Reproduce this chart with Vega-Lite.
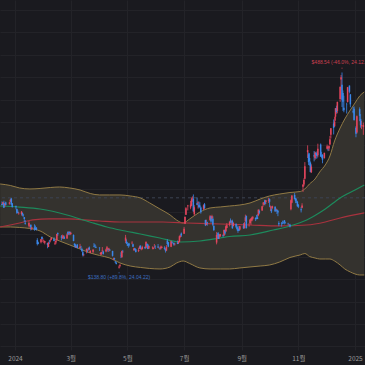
{
"$schema":"https://vega.github.io/schema/vega-lite/v6.json",
"width":365,"height":350,"autosize":{"type":"none"},"padding":{"left":0,"top":0,"right":0,"bottom":15},
"background":"#1a1a1f",
"config":{"view":{"stroke":null},
 "axisX":{"grid":true,"gridColor":"#232328","gridWidth":1,"ticks":false,"tickSize":0,"domain":false,"labelColor":"#9a9a9a","labelFontSize":6.5,"labelFont":"Noto Sans CJK KR","labelPadding":5,"labelFlush":false,"labelOverlap":false,"labelBound":false,"tickCount":20},
 "axisY":{"grid":true,"gridColor":"#232328","gridWidth":1,"ticks":false,"domain":false,"labels":false,"tickCount":30}},
"datasets":{
"band":[
{"d":"2023-12-16","up":289.7,"lo":213.0},{"d":"2023-12-27","up":287.0,"lo":213.0},{"d":"2024-01-06","up":282.5,"lo":212.1},{"d":"2024-01-17","up":280.8,"lo":210.3},{"d":"2024-01-28","up":281.7,"lo":205.9},{"d":"2024-02-08","up":283.4,"lo":195.2},{"d":"2024-02-18","up":284.3,"lo":188.0},{"d":"2024-02-29","up":282.5,"lo":180.9},{"d":"2024-03-11","up":279.0,"lo":173.8},{"d":"2024-03-22","up":272.7,"lo":166.6},{"d":"2024-04-01","up":270.1,"lo":162.2},{"d":"2024-04-12","up":270.1,"lo":157.7},{"d":"2024-04-23","up":270.1,"lo":148.8},{"d":"2024-05-04","up":268.3,"lo":143.4},{"d":"2024-05-15","up":264.7,"lo":140.8},{"d":"2024-05-25","up":255.8,"lo":139.0},{"d":"2024-06-05","up":245.1,"lo":138.1},{"d":"2024-06-16","up":234.4,"lo":141.7},{"d":"2024-06-23","up":225.3,"lo":148.8},{"d":"2024-06-30","up":220.1,"lo":152.3},{"d":"2024-07-07","up":227.3,"lo":147.9},{"d":"2024-07-18","up":239.7,"lo":139.9},{"d":"2024-07-29","up":246.9,"lo":138.1},{"d":"2024-08-09","up":248.7,"lo":138.1},{"d":"2024-08-19","up":250.4,"lo":138.1},{"d":"2024-08-30","up":252.2,"lo":139.9},{"d":"2024-09-10","up":255.8,"lo":141.7},{"d":"2024-09-21","up":262.9,"lo":143.4},{"d":"2024-10-01","up":268.3,"lo":145.2},{"d":"2024-10-12","up":271.8,"lo":150.6},{"d":"2024-10-23","up":274.5,"lo":158.6},{"d":"2024-11-03","up":276.3,"lo":163.1},{"d":"2024-11-08","up":280.8,"lo":165.7},{"d":"2024-11-13","up":289.7,"lo":160.4},{"d":"2024-11-19","up":298.6,"lo":157.7},{"d":"2024-11-24","up":311.1,"lo":155.9},{"d":"2024-11-30","up":323.6,"lo":155.9},{"d":"2024-12-05","up":339.6,"lo":155.9},{"d":"2024-12-10","up":366.4,"lo":152.3},{"d":"2024-12-16","up":389.6,"lo":145.2},{"d":"2024-12-21","up":405.6,"lo":138.1},{"d":"2024-12-27","up":421.7,"lo":132.7},{"d":"2025-01-01","up":434.1,"lo":129.2},{"d":"2025-01-06","up":446.6,"lo":127.4},{"d":"2025-01-11","up":453.8,"lo":127.4}
],
"green":[
{"d":"2023-12-16","v":250.4},{"d":"2024-01-06","v":248.4},{"d":"2024-01-28","v":245.1},{"d":"2024-02-26","v":234.4},{"d":"2024-03-11","v":227.3},{"d":"2024-03-25","v":220.1},{"d":"2024-04-09","v":213.0},{"d":"2024-04-23","v":207.6},{"d":"2024-05-15","v":200.5},{"d":"2024-06-05","v":193.4},{"d":"2024-06-27","v":186.2},{"d":"2024-07-18","v":188.0},{"d":"2024-08-09","v":193.4},{"d":"2024-08-19","v":196.0},{"d":"2024-09-10","v":198.7},{"d":"2024-10-05","v":207.6},{"d":"2024-10-23","v":214.8},{"d":"2024-11-10","v":225.5},{"d":"2024-11-18","v":232.6},{"d":"2024-11-30","v":245.0},{"d":"2024-12-16","v":264.7},{"d":"2025-01-01","v":279.0},{"d":"2025-01-11","v":287.9}
],
"red":[
{"d":"2023-12-16","v":213.0},{"d":"2024-01-06","v":220.1},{"d":"2024-01-20","v":225.5},{"d":"2024-02-07","v":227.3},{"d":"2024-02-26","v":227.3},{"d":"2024-04-01","v":223.7},{"d":"2024-04-23","v":221.9},{"d":"2024-06-08","v":221.9},{"d":"2024-07-04","v":220.1},{"d":"2024-08-09","v":218.3},{"d":"2024-09-10","v":216.5},{"d":"2024-10-12","v":214.8},{"d":"2024-11-10","v":216.5},{"d":"2024-11-30","v":221.9},{"d":"2024-12-16","v":229.0},{"d":"2025-01-11","v":238.0}
],
"ohlc":[
{"d":"2023-12-18","o":253.8,"h":258.7,"l":251.4,"c":252.1},{"d":"2023-12-19","o":253.5,"h":257.3,"l":253.0,"c":257.2},{"d":"2023-12-20","o":256.4,"h":259.8,"l":247.0,"c":247.1},{"d":"2023-12-21","o":251.9,"h":254.8,"l":248.6,"c":254.5},{"d":"2023-12-22","o":256.8,"h":258.2,"l":251.4,"c":252.5},{"d":"2023-12-26","o":254.5,"h":257.9,"l":252.9,"c":256.6},{"d":"2023-12-27","o":258.4,"h":263.3,"l":257.5,"c":261.4},{"d":"2023-12-28","o":263.7,"h":265.1,"l":252.7,"c":253.2},{"d":"2023-12-29","o":255.1,"h":255.2,"l":247.4,"c":248.5},
{"d":"2024-01-02","o":250.1,"h":251.3,"l":244.4,"c":248.4},{"d":"2024-01-03","o":244.9,"h":245.7,"l":236.3,"c":238.4},{"d":"2024-01-04","o":239.3,"h":242.7,"l":237.7,"c":237.9},{"d":"2024-01-05","o":236.9,"h":240.1,"l":234.9,"c":237.5},{"d":"2024-01-08","o":236.1,"h":241.3,"l":233.3,"c":240.5},{"d":"2024-01-09","o":238.1,"h":238.9,"l":232.0,"c":235.0},{"d":"2024-01-10","o":235.1,"h":235.5,"l":231.3,"c":233.9},{"d":"2024-01-11","o":230.6,"h":230.9,"l":222.0,"c":227.2},{"d":"2024-01-12","o":220.1,"h":225.3,"l":217.2,"c":218.9},{"d":"2024-01-16","o":215.1,"h":223.5,"l":212.2,"c":219.9},{"d":"2024-01-17","o":214.9,"h":216.0,"l":212.0,"c":215.6},{"d":"2024-01-18","o":216.9,"h":217.4,"l":206.8,"c":211.9},{"d":"2024-01-19","o":209.9,"h":213.2,"l":207.6,"c":212.2},{"d":"2024-01-22","o":212.3,"h":217.8,"l":206.3,"c":208.8},{"d":"2024-01-23","o":211.3,"h":215.6,"l":207.8,"c":209.1},{"d":"2024-01-24","o":211.9,"h":212.7,"l":206.8,"c":207.8},{"d":"2024-01-25","o":189.7,"h":193.0,"l":180.1,"c":182.6},{"d":"2024-01-26","o":185.5,"h":186.8,"l":182.1,"c":183.3},{"d":"2024-01-29","o":185.6,"h":191.5,"l":183.7,"c":190.9},{"d":"2024-01-30","o":195.3,"h":196.4,"l":190.3,"c":191.6},{"d":"2024-01-31","o":187.0,"h":193.0,"l":185.9,"c":187.3},
{"d":"2024-02-01","o":188.5,"h":189.9,"l":184.2,"c":188.9},{"d":"2024-02-02","o":185.0,"h":188.0,"l":182.0,"c":187.9},{"d":"2024-02-05","o":184.3,"h":184.9,"l":175.0,"c":181.1},{"d":"2024-02-06","o":177.2,"h":186.5,"l":177.1,"c":185.1},{"d":"2024-02-07","o":188.2,"h":189.8,"l":182.7,"c":187.6},{"d":"2024-02-08","o":189.0,"h":191.6,"l":185.6,"c":189.6},{"d":"2024-02-09","o":190.2,"h":194.1,"l":189.1,"c":193.6},{"d":"2024-02-12","o":192.1,"h":194.7,"l":187.4,"c":188.1},{"d":"2024-02-13","o":183.0,"h":187.3,"l":180.9,"c":184.0},{"d":"2024-02-14","o":185.3,"h":188.9,"l":182.3,"c":188.7},{"d":"2024-02-15","o":189.2,"h":200.9,"l":188.8,"c":200.5},{"d":"2024-02-16","o":202.1,"h":203.2,"l":197.0,"c":200.0},{"d":"2024-02-20","o":196.1,"h":198.6,"l":189.1,"c":193.8},{"d":"2024-02-21","o":193.4,"h":199.4,"l":191.9,"c":194.8},{"d":"2024-02-22","o":194.0,"h":198.3,"l":191.4,"c":197.4},{"d":"2024-02-23","o":195.3,"h":197.6,"l":191.5,"c":192.0},{"d":"2024-02-26","o":192.3,"h":201.8,"l":192.0,"c":199.4},{"d":"2024-02-27","o":204.0,"h":205.6,"l":198.3,"c":199.7},{"d":"2024-02-28","o":200.4,"h":205.3,"l":198.4,"c":202.0},{"d":"2024-02-29","o":204.2,"h":205.3,"l":198.4,"c":201.9},
{"d":"2024-03-01","o":200.5,"h":204.5,"l":198.5,"c":202.6},{"d":"2024-03-04","o":198.7,"h":199.8,"l":187.5,"c":188.1},{"d":"2024-03-05","o":183.1,"h":184.0,"l":177.6,"c":180.7},{"d":"2024-03-06","o":181.3,"h":183.0,"l":176.3,"c":176.5},{"d":"2024-03-07","o":176.6,"h":179.8,"l":175.6,"c":178.7},{"d":"2024-03-08","o":181.5,"h":182.7,"l":174.7,"c":175.3},{"d":"2024-03-11","o":175.5,"h":182.9,"l":174.5,"c":177.8},{"d":"2024-03-12","o":177.8,"h":179.4,"l":172.4,"c":177.5},{"d":"2024-03-13","o":173.1,"h":176.1,"l":169.0,"c":169.5},{"d":"2024-03-14","o":167.8,"h":171.2,"l":160.5,"c":162.5},{"d":"2024-03-15","o":163.2,"h":165.2,"l":160.8,"c":163.6},{"d":"2024-03-18","o":170.0,"h":174.7,"l":165.9,"c":173.8},{"d":"2024-03-19","o":172.4,"h":172.8,"l":167.4,"c":171.3},{"d":"2024-03-20","o":173.0,"h":176.2,"l":170.9,"c":175.7},{"d":"2024-03-21","o":176.4,"h":178.2,"l":171.8,"c":172.8},{"d":"2024-03-22","o":166.7,"h":171.2,"l":166.3,"c":170.8},{"d":"2024-03-25","o":168.8,"h":173.6,"l":165.9,"c":172.6},{"d":"2024-03-26","o":178.6,"h":184.2,"l":177.0,"c":177.7},{"d":"2024-03-27","o":181.4,"h":181.9,"l":176.1,"c":179.8},{"d":"2024-03-28","o":177.5,"h":179.6,"l":175.3,"c":175.8},
{"d":"2024-04-01","o":176.2,"h":176.8,"l":170.2,"c":175.2},{"d":"2024-04-02","o":164.8,"h":167.7,"l":163.4,"c":166.6},{"d":"2024-04-03","o":164.0,"h":168.8,"l":163.3,"c":168.4},{"d":"2024-04-04","o":170.3,"h":177.2,"l":168.0,"c":171.1},{"d":"2024-04-05","o":169.1,"h":170.9,"l":163.8,"c":164.9},{"d":"2024-04-08","o":169.3,"h":174.5,"l":167.8,"c":173.0},{"d":"2024-04-09","o":172.9,"h":179.2,"l":170.0,"c":176.9},{"d":"2024-04-10","o":173.0,"h":174.9,"l":168.6,"c":171.8},{"d":"2024-04-11","o":172.6,"h":175.9,"l":168.5,"c":174.6},{"d":"2024-04-12","o":172.3,"h":173.8,"l":170.4,"c":171.1},{"d":"2024-04-15","o":170.2,"h":170.7,"l":160.3,"c":161.5},{"d":"2024-04-16","o":156.7,"h":158.2,"l":153.8,"c":157.1},{"d":"2024-04-17","o":157.6,"h":158.3,"l":153.8,"c":155.5},{"d":"2024-04-18","o":151.3,"h":152.2,"l":148.7,"c":149.9},{"d":"2024-04-19","o":149.0,"h":150.9,"l":146.2,"c":147.1},{"d":"2024-04-22","o":140.6,"h":144.4,"l":138.8,"c":142.1},{"d":"2024-04-23","o":143.3,"h":147.3,"l":141.1,"c":144.7},{"d":"2024-04-24","o":162.8,"h":167.9,"l":157.5,"c":162.1},{"d":"2024-04-25","o":159.0,"h":170.9,"l":158.4,"c":170.2},{"d":"2024-04-26","o":168.9,"h":172.1,"l":166.4,"c":168.3},{"d":"2024-04-29","o":188.4,"h":198.9,"l":184.5,"c":194.1},{"d":"2024-04-30","o":187.0,"h":191.0,"l":182.7,"c":183.3},
{"d":"2024-05-01","o":182.0,"h":185.9,"l":179.0,"c":180.0},{"d":"2024-05-02","o":182.9,"h":184.6,"l":176.0,"c":180.0},{"d":"2024-05-03","o":182.1,"h":184.7,"l":178.4,"c":181.2},{"d":"2024-05-06","o":183.8,"h":187.6,"l":182.2,"c":184.8},{"d":"2024-05-07","o":182.4,"h":183.3,"l":177.4,"c":177.8},{"d":"2024-05-08","o":171.6,"h":176.1,"l":170.6,"c":174.7},{"d":"2024-05-09","o":175.0,"h":175.6,"l":170.7,"c":172.0},{"d":"2024-05-10","o":173.1,"h":173.1,"l":167.4,"c":168.5},{"d":"2024-05-13","o":170.0,"h":175.4,"l":168.2,"c":171.9},{"d":"2024-05-14","o":174.5,"h":179.5,"l":174.1,"c":177.6},{"d":"2024-05-15","o":179.9,"h":180.0,"l":173.1,"c":174.0},{"d":"2024-05-16","o":174.1,"h":175.8,"l":171.4,"c":174.8},{"d":"2024-05-17","o":173.6,"h":179.6,"l":172.8,"c":177.5},{"d":"2024-05-20","o":177.6,"h":177.7,"l":173.5,"c":175.0},{"d":"2024-05-21","o":176.0,"h":186.9,"l":174.7,"c":186.6},{"d":"2024-05-22","o":182.9,"h":183.8,"l":178.1,"c":180.1},{"d":"2024-05-23","o":181.8,"h":181.9,"l":173.3,"c":173.7},{"d":"2024-05-24","o":174.8,"h":180.1,"l":173.7,"c":179.2},{"d":"2024-05-28","o":176.4,"h":178.3,"l":173.2,"c":176.8},{"d":"2024-05-29","o":174.2,"h":176.2,"l":173.3,"c":176.2},{"d":"2024-05-30","o":178.6,"h":182.7,"l":175.8,"c":178.8},{"d":"2024-05-31","o":178.5,"h":180.3,"l":173.8,"c":178.1},
{"d":"2024-06-03","o":178.1,"h":182.6,"l":175.5,"c":176.3},{"d":"2024-06-04","o":174.8,"h":177.8,"l":174.0,"c":174.8},{"d":"2024-06-05","o":175.4,"h":176.1,"l":172.1,"c":175.0},{"d":"2024-06-06","o":174.6,"h":179.7,"l":172.9,"c":177.9},{"d":"2024-06-07","o":176.1,"h":179.4,"l":175.5,"c":177.5},{"d":"2024-06-10","o":176.1,"h":178.6,"l":172.5,"c":173.8},{"d":"2024-06-11","o":173.9,"h":174.8,"l":167.4,"c":170.7},{"d":"2024-06-12","o":171.1,"h":180.6,"l":169.8,"c":177.3},{"d":"2024-06-13","o":188.4,"h":191.1,"l":181.2,"c":182.5},{"d":"2024-06-14","o":185.8,"h":186.0,"l":176.9,"c":178.0},{"d":"2024-06-17","o":177.9,"h":188.8,"l":177.0,"c":187.4},{"d":"2024-06-18","o":186.6,"h":187.2,"l":182.4,"c":184.9},{"d":"2024-06-20","o":184.7,"h":185.2,"l":179.7,"c":181.6},{"d":"2024-06-21","o":182.3,"h":183.9,"l":180.0,"c":183.0},{"d":"2024-06-24","o":185.0,"h":188.8,"l":182.4,"c":182.6},{"d":"2024-06-25","o":184.4,"h":187.6,"l":182.6,"c":187.4},{"d":"2024-06-26","o":186.5,"h":197.8,"l":186.4,"c":196.4},{"d":"2024-06-27","o":195.2,"h":199.8,"l":194.1,"c":197.4},{"d":"2024-06-28","o":201.4,"h":203.2,"l":195.3,"c":197.9},
{"d":"2024-07-01","o":201.0,"h":213.2,"l":200.8,"c":209.9},{"d":"2024-07-02","o":218.9,"h":231.3,"l":218.1,"c":231.3},{"d":"2024-07-03","o":234.6,"h":248.4,"l":234.3,"c":246.4},{"d":"2024-07-05","o":249.8,"h":252.4,"l":242.5,"c":251.5},{"d":"2024-07-08","o":247.7,"h":259.4,"l":244.6,"c":252.9},{"d":"2024-07-09","o":251.0,"h":265.6,"l":250.3,"c":262.3},{"d":"2024-07-10","o":262.8,"h":267.6,"l":257.9,"c":263.3},{"d":"2024-07-11","o":263.3,"h":271.0,"l":239.7,"c":241.0},{"d":"2024-07-12","o":235.8,"h":251.8,"l":233.1,"c":248.2},{"d":"2024-07-15","o":255.3,"h":265.6,"l":251.7,"c":252.6},{"d":"2024-07-16","o":255.3,"h":258.6,"l":245.8,"c":256.6},{"d":"2024-07-17","o":252.7,"h":258.5,"l":246.2,"c":248.5},{"d":"2024-07-18","o":251.1,"h":257.1,"l":247.2,"c":249.2},{"d":"2024-07-19","o":247.8,"h":249.4,"l":236.8,"c":239.2},{"d":"2024-07-22","o":244.2,"h":253.2,"l":243.8,"c":251.5},{"d":"2024-07-23","o":253.6,"h":255.8,"l":245.6,"c":246.4},{"d":"2024-07-24","o":225.4,"h":226.0,"l":214.6,"c":216.0},{"d":"2024-07-25","o":216.8,"h":226.0,"l":216.2,"c":220.3},{"d":"2024-07-26","o":221.2,"h":222.3,"l":215.3,"c":219.8},{"d":"2024-07-29","o":224.9,"h":234.3,"l":224.3,"c":232.1},{"d":"2024-07-30","o":232.3,"h":232.4,"l":220.4,"c":222.6},{"d":"2024-07-31","o":227.9,"h":234.7,"l":226.6,"c":232.1},
{"d":"2024-08-01","o":227.7,"h":231.9,"l":214.3,"c":216.9},{"d":"2024-08-02","o":214.9,"h":216.1,"l":205.7,"c":207.7},{"d":"2024-08-05","o":185.2,"h":203.9,"l":182.0,"c":198.9},{"d":"2024-08-06","o":200.8,"h":202.9,"l":192.1,"c":200.6},{"d":"2024-08-07","o":200.8,"h":203.5,"l":191.5,"c":191.8},{"d":"2024-08-08","o":195.7,"h":200.7,"l":192.0,"c":198.8},{"d":"2024-08-09","o":197.1,"h":200.7,"l":195.2,"c":200.0},{"d":"2024-08-12","o":199.0,"h":199.3,"l":194.7,"c":197.5},{"d":"2024-08-13","o":198.0,"h":208.5,"l":197.1,"c":207.8},{"d":"2024-08-14","o":207.4,"h":208.4,"l":198.8,"c":201.4},{"d":"2024-08-15","o":205.0,"h":215.9,"l":204.8,"c":214.1},{"d":"2024-08-16","o":211.2,"h":219.8,"l":210.8,"c":216.1},{"d":"2024-08-19","o":217.1,"h":223.0,"l":214.1,"c":222.7},{"d":"2024-08-20","o":224.9,"h":228.2,"l":219.6,"c":221.1},{"d":"2024-08-21","o":222.7,"h":224.7,"l":218.9,"c":223.3},{"d":"2024-08-22","o":223.8,"h":226.0,"l":209.8,"c":210.7},{"d":"2024-08-23","o":214.5,"h":221.5,"l":214.2,"c":220.3},{"d":"2024-08-26","o":218.8,"h":219.1,"l":211.0,"c":213.2},{"d":"2024-08-27","o":213.3,"h":215.7,"l":206.9,"c":209.2},{"d":"2024-08-28","o":209.7,"h":211.8,"l":202.6,"c":205.8},{"d":"2024-08-29","o":209.8,"h":214.9,"l":206.0,"c":206.3},{"d":"2024-08-30","o":208.6,"h":214.6,"l":207.0,"c":214.1},
{"d":"2024-09-03","o":215.3,"h":219.9,"l":209.6,"c":210.6},{"d":"2024-09-04","o":210.6,"h":222.2,"l":210.6,"c":219.4},{"d":"2024-09-05","o":223.5,"h":235.0,"l":222.3,"c":230.2},{"d":"2024-09-06","o":232.6,"h":233.6,"l":210.5,"c":210.7},{"d":"2024-09-09","o":216.2,"h":219.9,"l":213.7,"c":216.3},{"d":"2024-09-10","o":220.1,"h":226.4,"l":218.6,"c":226.2},{"d":"2024-09-11","o":224.6,"h":228.5,"l":216.8,"c":228.1},{"d":"2024-09-12","o":224.7,"h":231.4,"l":223.0,"c":229.8},{"d":"2024-09-13","o":228.0,"h":232.7,"l":226.3,"c":230.3},{"d":"2024-09-16","o":229.3,"h":230.0,"l":223.5,"c":226.8},{"d":"2024-09-17","o":229.5,"h":234.6,"l":226.6,"c":227.9},{"d":"2024-09-18","o":230.1,"h":235.7,"l":226.9,"c":227.2},{"d":"2024-09-19","o":234.0,"h":244.2,"l":232.1,"c":243.9},{"d":"2024-09-20","o":241.5,"h":244.0,"l":235.9,"c":238.3},{"d":"2024-09-23","o":242.6,"h":250.0,"l":241.9,"c":250.0},{"d":"2024-09-24","o":254.1,"h":257.2,"l":249.1,"c":254.3},{"d":"2024-09-25","o":252.5,"h":257.1,"l":252.3,"c":257.0},{"d":"2024-09-26","o":260.6,"h":261.8,"l":251.5,"c":254.2},{"d":"2024-09-27","o":257.4,"h":260.7,"l":254.1,"c":260.5},{"d":"2024-09-30","o":259.0,"h":264.9,"l":255.8,"c":261.6},
{"d":"2024-10-01","o":262.7,"h":264.0,"l":248.5,"c":258.0},{"d":"2024-10-02","o":247.6,"h":251.2,"l":241.5,"c":249.0},{"d":"2024-10-03","o":244.5,"h":249.8,"l":237.8,"c":240.7},{"d":"2024-10-04","o":246.7,"h":251.0,"l":244.6,"c":250.1},{"d":"2024-10-07","o":249.0,"h":249.8,"l":240.7,"c":240.8},{"d":"2024-10-08","o":243.6,"h":246.2,"l":240.6,"c":244.5},{"d":"2024-10-09","o":243.8,"h":244.5,"l":236.1,"c":241.1},{"d":"2024-10-10","o":241.8,"h":242.8,"l":232.3,"c":238.8},{"d":"2024-10-11","o":220.1,"h":223.3,"l":214.4,"c":217.8},{"d":"2024-10-14","o":220.1,"h":221.9,"l":213.7,"c":219.2},{"d":"2024-10-15","o":220.0,"h":224.3,"l":217.9,"c":219.6},{"d":"2024-10-16","o":221.4,"h":222.8,"l":218.9,"c":221.3},{"d":"2024-10-17","o":225.0,"h":225.1,"l":217.7,"c":220.9},{"d":"2024-10-18","o":220.9,"h":222.3,"l":219.0,"c":220.7},{"d":"2024-10-21","o":219.2,"h":220.5,"l":215.7,"c":218.9},{"d":"2024-10-22","o":217.3,"h":218.2,"l":215.3,"c":218.0},{"d":"2024-10-23","o":217.1,"h":218.7,"l":212.1,"c":213.7},{"d":"2024-10-24","o":244.7,"h":262.1,"l":242.7,"c":260.5},{"d":"2024-10-25","o":256.0,"h":269.5,"l":255.3,"c":269.2},{"d":"2024-10-28","o":270.0,"h":273.5,"l":262.2,"c":262.5},{"d":"2024-10-29","o":264.5,"h":265.0,"l":255.5,"c":259.5},{"d":"2024-10-30","o":258.0,"h":263.4,"l":255.8,"c":257.6},{"d":"2024-10-31","o":258.0,"h":259.8,"l":249.3,"c":249.9},
{"d":"2024-11-01","o":252.0,"h":254.0,"l":246.6,"c":249.0},{"d":"2024-11-04","o":244.6,"h":248.9,"l":238.9,"c":242.8},{"d":"2024-11-05","o":247.3,"h":255.3,"l":246.5,"c":251.4},{"d":"2024-11-06","o":284.7,"h":289.6,"l":275.6,"c":288.5},{"d":"2024-11-07","o":288.9,"h":299.8,"l":285.5,"c":296.9},{"d":"2024-11-08","o":299.1,"h":328.7,"l":297.7,"c":321.2},{"d":"2024-11-11","o":346.3,"h":358.6,"l":336.0,"c":350.0},{"d":"2024-11-12","o":342.7,"h":345.8,"l":323.3,"c":328.5},{"d":"2024-11-13","o":335.9,"h":344.6,"l":322.5,"c":330.2},{"d":"2024-11-14","o":327.7,"h":330.0,"l":310.4,"c":311.2},{"d":"2024-11-15","o":310.6,"h":324.7,"l":309.2,"c":320.7},{"d":"2024-11-18","o":340.7,"h":348.5,"l":330.0,"c":338.7},{"d":"2024-11-19","o":335.8,"h":347.4,"l":332.8,"c":346.0},{"d":"2024-11-20","o":345.0,"h":346.6,"l":334.3,"c":342.0},{"d":"2024-11-21","o":343.8,"h":348.0,"l":335.3,"c":339.6},{"d":"2024-11-22","o":341.1,"h":361.5,"l":337.2,"c":352.6},{"d":"2024-11-25","o":360.1,"h":361.9,"l":338.2,"c":338.6},{"d":"2024-11-26","o":341.0,"h":347.0,"l":335.7,"c":338.2},{"d":"2024-11-27","o":341.8,"h":342.6,"l":326.6,"c":332.9},{"d":"2024-11-29","o":336.1,"h":345.5,"l":334.8,"c":345.2},
{"d":"2024-12-02","o":352.4,"h":360.0,"l":351.2,"c":357.1},{"d":"2024-12-03","o":351.8,"h":355.7,"l":348.2,"c":351.4},{"d":"2024-12-04","o":353.0,"h":358.1,"l":348.6,"c":357.9},{"d":"2024-12-05","o":359.9,"h":375.4,"l":359.5,"c":369.5},{"d":"2024-12-06","o":377.4,"h":389.5,"l":370.8,"c":389.2},{"d":"2024-12-09","o":397.6,"h":404.8,"l":378.0,"c":389.8},{"d":"2024-12-10","o":392.7,"h":409.7,"l":391.3,"c":401.0},{"d":"2024-12-11","o":409.7,"h":424.9,"l":402.4,"c":424.8},{"d":"2024-12-12","o":424.8,"h":429.3,"l":415.0,"c":418.1},{"d":"2024-12-13","o":420.0,"h":436.3,"l":415.7,"c":436.2},{"d":"2024-12-16","o":441.1,"h":463.2,"l":436.2,"c":463.0},{"d":"2024-12-17","o":475.9,"h":484.0,"l":457.5,"c":479.9},{"d":"2024-12-18","o":466.5,"h":488.54,"l":427.0,"c":440.1},{"d":"2024-12-19","o":451.9,"h":456.4,"l":420.0,"c":436.2},{"d":"2024-12-20","o":425.5,"h":447.1,"l":417.6,"c":421.1},{"d":"2024-12-23","o":431.0,"h":434.5,"l":415.4,"c":430.6},{"d":"2024-12-24","o":435.9,"h":462.8,"l":435.1,"c":462.3},{"d":"2024-12-26","o":465.2,"h":465.3,"l":451.1,"c":454.1},{"d":"2024-12-27","o":449.5,"h":450.0,"l":426.5,"c":431.7},{"d":"2024-12-30","o":419.4,"h":427.0,"l":415.8,"c":417.4},{"d":"2024-12-31","o":423.8,"h":427.9,"l":402.5,"c":403.8},
{"d":"2025-01-02","o":390.1,"h":392.7,"l":373.0,"c":379.3},{"d":"2025-01-03","o":381.5,"h":411.9,"l":379.5,"c":410.4},{"d":"2025-01-06","o":423.2,"h":426.4,"l":401.7,"c":411.1},{"d":"2025-01-07","o":405.8,"h":414.3,"l":390.0,"c":394.4},{"d":"2025-01-08","o":393.0,"h":402.5,"l":387.4,"c":394.9},{"d":"2025-01-10","o":391.4,"h":399.3,"l":377.3,"c":394.7}
],
"notes":[
{"d":"2024-12-18","p":488.54,"label":"$488.54 (-46.0%, 24.12.18)","kind":"high"},
{"d":"2024-04-22","p":138.8,"label":"$138.80 (+89.8%, 24.04.22)","kind":"low"}
]
},
"layer":[
{"data":{"name":"band"},"mark":{"type":"area","interpolate":"monotone","color":"#34322e","clip":true},
 "encoding":{
  "x":{"field":"d","type":"temporal","scale":{"type":"utc","domain":[{"year":2023,"month":12,"date":15,"hours":20,"utc":true},{"year":2025,"month":1,"date":11,"hours":18,"utc":true}]},
   "axis":{"title":null,"values":[{"year":2024,"month":1,"date":1,"utc":true},{"year":2024,"month":3,"date":1,"utc":true},{"year":2024,"month":5,"date":1,"utc":true},{"year":2024,"month":7,"date":1,"utc":true},{"year":2024,"month":9,"date":1,"utc":true},{"year":2024,"month":11,"date":1,"utc":true},{"year":2025,"month":1,"date":1,"utc":true}],
   "labelExpr":"utcmonth(datum.value) == 0 ? utcFormat(datum.value, '%Y') : (utcmonth(datum.value) + 1) + '월'"}},
  "y":{"field":"up","type":"quantitative","scale":{"domain":[-6.4,617.8],"nice":false,"zero":false},
   "axis":{"title":null,"values":[0,40,80,120,160,200,240,280,320,360,400,440,480,520,560,600]}},
  "y2":{"field":"lo"}}},
{"data":{"values":[{"p":265}]},"mark":{"type":"rule","color":"#3d4453","strokeDash":[3,3],"strokeWidth":1},
 "encoding":{"y":{"field":"p","type":"quantitative","axis":{"title":null}}}},
{"data":{"name":"band"},"mark":{"type":"line","interpolate":"monotone","color":"#917a45","strokeWidth":1,"clip":true},
 "encoding":{"x":{"field":"d","type":"temporal","axis":{"title":null}},"y":{"field":"up","type":"quantitative","axis":{"title":null}}}},
{"data":{"name":"band"},"mark":{"type":"line","interpolate":"monotone","color":"#917a45","strokeWidth":1,"clip":true},
 "encoding":{"x":{"field":"d","type":"temporal","axis":{"title":null}},"y":{"field":"lo","type":"quantitative","axis":{"title":null}}}},
{"data":{"name":"red"},"mark":{"type":"line","interpolate":"monotone","color":"#a8323e","strokeWidth":1.2,"clip":true},
 "encoding":{"x":{"field":"d","type":"temporal","axis":{"title":null}},"y":{"field":"v","type":"quantitative","axis":{"title":null}}}},
{"data":{"name":"green"},"mark":{"type":"line","interpolate":"monotone","color":"#1d8a5c","strokeWidth":1.2,"clip":true},
 "encoding":{"x":{"field":"d","type":"temporal","axis":{"title":null}},"y":{"field":"v","type":"quantitative","axis":{"title":null}}}},
{"data":{"name":"ohlc"},"mark":{"type":"rule","strokeWidth":0.8,"clip":true},
 "encoding":{"x":{"field":"d","type":"temporal","axis":{"title":null}},"y":{"field":"l","type":"quantitative","axis":{"title":null}},"y2":{"field":"h"},
  "color":{"condition":{"test":"datum.c >= datum.o","value":"#e5455d"},"value":"#3a86e8"}}},
{"data":{"name":"ohlc"},"mark":{"type":"rule","strokeWidth":1.5,"clip":true},
 "encoding":{"x":{"field":"d","type":"temporal","axis":{"title":null}},"y":{"field":"o","type":"quantitative","axis":{"title":null}},"y2":{"field":"c"},
  "color":{"condition":{"test":"datum.c >= datum.o","value":"#e5455d"},"value":"#3a86e8"}}},
{"data":{"name":"notes"},"transform":[{"filter":"datum.kind == 'high'"}],"mark":{"type":"text","dy":-10,"fontSize":5,"font":"Liberation Sans","color":"#c9404f","align":"center","baseline":"middle"},
 "encoding":{"x":{"field":"d","type":"temporal","axis":{"title":null}},"y":{"field":"p","type":"quantitative","axis":{"title":null}},"text":{"field":"label"}}},
{"data":{"name":"notes"},"transform":[{"filter":"datum.kind == 'low'"}],"mark":{"type":"text","dy":8,"fontSize":5,"font":"Liberation Sans","color":"#3d6fc0","align":"center","baseline":"middle"},
 "encoding":{"x":{"field":"d","type":"temporal","axis":{"title":null}},"y":{"field":"p","type":"quantitative","axis":{"title":null}},"text":{"field":"label"}}},
{"data":{"name":"notes"},"transform":[{"filter":"datum.kind == 'high'"}],"mark":{"type":"point","shape":"triangle-down","size":3,"filled":true,"color":"#c9404f","yOffset":-4},
 "encoding":{"x":{"field":"d","type":"temporal","axis":{"title":null}},"y":{"field":"p","type":"quantitative","axis":{"title":null}}}},
{"data":{"name":"notes"},"transform":[{"filter":"datum.kind == 'low'"}],"mark":{"type":"point","shape":"triangle-up","size":3,"filled":true,"color":"#3d6fc0","yOffset":4},
 "encoding":{"x":{"field":"d","type":"temporal","axis":{"title":null}},"y":{"field":"p","type":"quantitative","axis":{"title":null}}}}
]
}
